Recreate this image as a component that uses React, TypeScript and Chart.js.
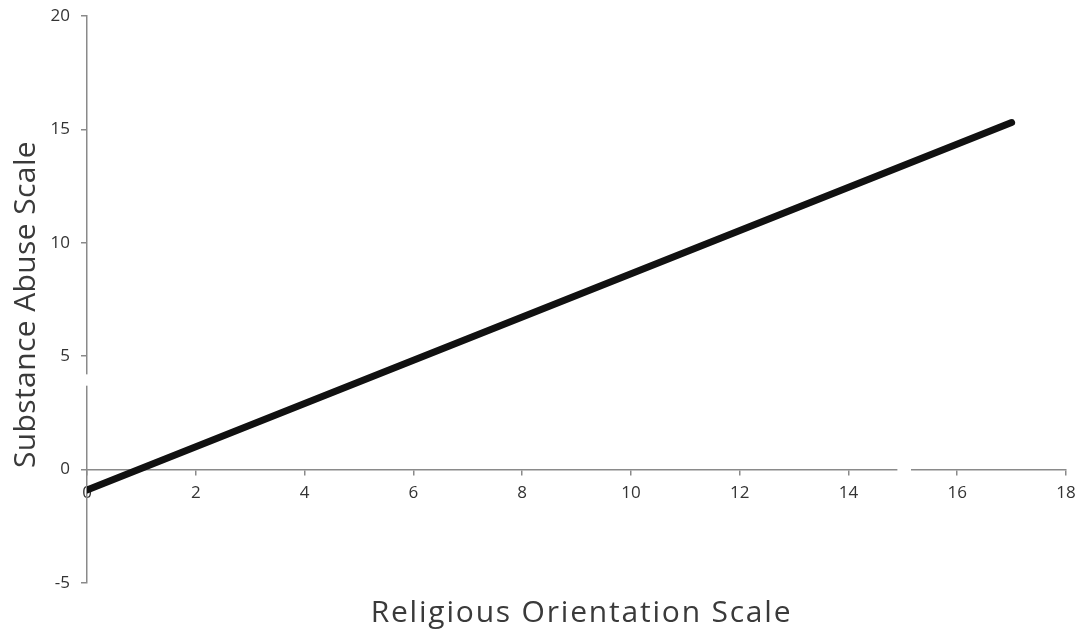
import React, { useEffect, useRef } from "react";
import { Chart, registerables } from "chart.js";

Chart.register(...registerables);

const lineX = [0, 17];
const lineY = [-0.9, 15.3];
const xTitle = "Religious Orientation Scale";
const yTitle = "Substance Abuse Scale";
const xRange = [0, 18];
const yRange = [-5, 20];
const xStep = 2;
const yStep = 5;
const yBreak = [3.7, 4.2];
const xBreak = [14.9, 15.15];

const AXIS = "#8a8a8a";
const TEXT = "#333333";
const FONT = "'Open Sans', 'Liberation Sans', sans-serif";

export default function App() {
  const ref = useRef<HTMLCanvasElement>(null);
  useEffect(() => {
    if (!ref.current) return;
    const extras = {
      id: "extras",
      beforeDatasetsDraw(chart: any) {
        const { ctx } = chart;
        const xs = chart.scales.x;
        const ys = chart.scales.y;
        ctx.save();
        ctx.fillStyle = "#ffffff";
        const x0 = xs.getPixelForValue(0);
        const y0 = ys.getPixelForValue(0);
        const yb1 = ys.getPixelForValue(yBreak[1]);
        const yb0 = ys.getPixelForValue(yBreak[0]);
        ctx.fillRect(x0 - 3, yb1, 6, yb0 - yb1);
        const xb0 = xs.getPixelForValue(xBreak[0]);
        const xb1 = xs.getPixelForValue(xBreak[1]);
        ctx.fillRect(xb0, y0 - 3, xb1 - xb0, 6);
        ctx.restore();
      },
      afterDraw(chart: any) {
        const { ctx, chartArea } = chart;
        ctx.save();
        ctx.fillStyle = "#3a3a3a";
        ctx.font = `30px ${FONT}`;
        ctx.textAlign = "center";
        ctx.textBaseline = "alphabetic";
        (ctx as any).letterSpacing = "1.8px";
        ctx.fillText(xTitle, (chartArea.left + chartArea.right) / 2 + 5, 622);
        (ctx as any).letterSpacing = "0.4px";
        ctx.translate(35, (chartArea.top + chartArea.bottom) / 2 + 5);
        ctx.rotate(-Math.PI / 2);
        ctx.fillText(yTitle, 0, 0);
        ctx.restore();
      },
    };
    const chart = new Chart(ref.current, {
      type: "scatter",
      data: {
        datasets: [
          {
            data: lineX.map((x, i) => ({ x, y: lineY[i] })),
            showLine: true,
            borderColor: "#111111",
            borderWidth: 7,
            borderCapStyle: "round",
            pointRadius: 0,
          } as any,
        ],
      },
      options: {
        responsive: false,
        animation: false,
        layout: { padding: { top: 16, right: 16, bottom: 50, left: 0 } },
        plugins: { legend: { display: false }, tooltip: { enabled: false } },
        scales: {
          x: {
            type: "linear",
            position: { y: 0 } as any,
            min: xRange[0],
            max: xRange[1],
            ticks: {
              stepSize: xStep,
              padding: 8,
              color: TEXT,
              font: { family: FONT, size: 17 },
            },
            grid: { drawOnChartArea: false, drawTicks: true, tickLength: 5, color: AXIS, lineWidth: 1.5 },
            border: { display: true, color: AXIS, width: 1.5 },
            afterFit(scale: any) {
              scale.paddingLeft = 0;
              scale.paddingRight = 0;
            },
          },
          y: {
            type: "linear",
            min: yRange[0],
            max: yRange[1],
            ticks: {
              stepSize: yStep,
              padding: 11,
              color: TEXT,
              font: { family: FONT, size: 17 },
            },
            grid: { drawOnChartArea: false, drawTicks: true, tickLength: 6, color: AXIS, lineWidth: 1.5 },
            border: { display: true, color: AXIS, width: 1.5 },
            afterFit(scale: any) {
              scale.width = 87;
              scale.paddingTop = 0;
              scale.paddingBottom = 0;
            },
          },
        },
      },
      plugins: [extras],
    });
    return () => chart.destroy();
  }, []);
  return (
    <div style={{ position: "absolute", left: 0, top: 0, width: 1082, height: 633, background: "#fff" }}>
      <canvas ref={ref} width={1082} height={633} />
    </div>
  );
}
